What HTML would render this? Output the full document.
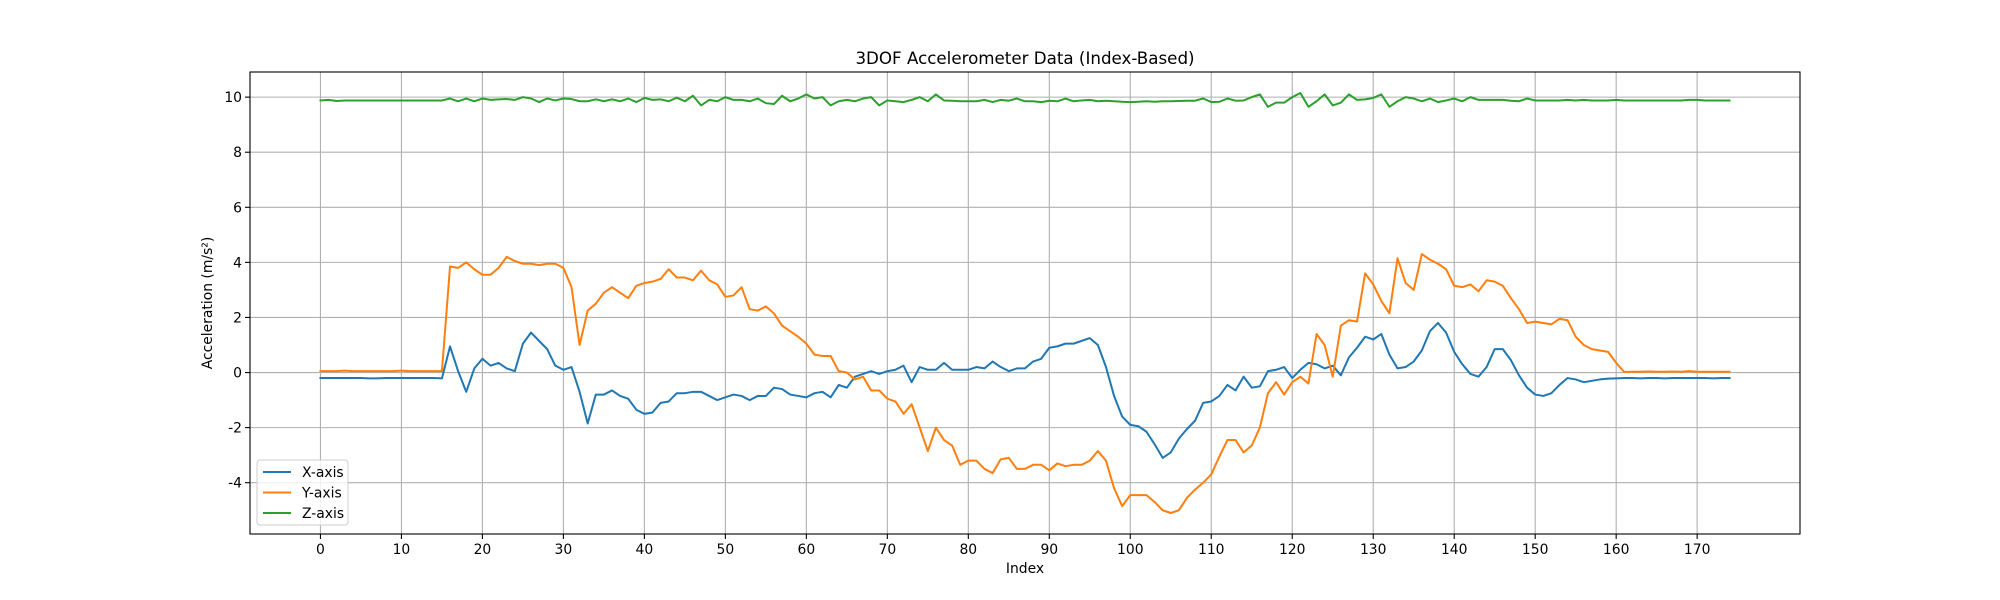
<!DOCTYPE html>
<html><head><meta charset="utf-8"><style>
html,body{margin:0;padding:0;background:#fff;}
svg{display:block;font-family:"DejaVu Sans","Liberation Sans",sans-serif;}
</style></head><body>
<svg id="chart" width="2000" height="600" xmlns="http://www.w3.org/2000/svg">
<text x="1025" y="64" font-size="16.7" text-anchor="middle">3DOF Accelerometer Data (Index-Based)</text>
<g id="grid"></g>
<g id="series"></g>
<rect x="250" y="72" width="1550" height="462" fill="none" stroke="#000" stroke-width="1.1"/>
<g id="xticks"></g>
<g id="yticks"></g>
<text x="1025" y="573" font-size="13.9" text-anchor="middle">Index</text>
<text x="0" y="0" font-size="13.9" text-anchor="middle" transform="translate(212,303) rotate(-90)">Acceleration (m/s²)</text>
<g id="legend"></g>
</svg>
<script>
const xTicks=[0,10,20,30,40,50,60,70,80,90,100,110,120,130,140,150,160,170];
const yTicks=[-4,-2,0,2,4,6,8,10];
const seriesNames=["X-axis","Y-axis","Z-axis"];
const xAxisVals=[-0.2,-0.2,-0.2,-0.2,-0.2,-0.2,-0.21,-0.21,-0.2,-0.2,-0.2,-0.2,-0.2,-0.2,-0.2,-0.21,
0.95,0.05,-0.7,0.15,0.5,0.25,0.35,0.15,0.05,1.05,1.45,1.15,0.85,0.25,0.1,0.2,-0.7,-1.85,-0.8,-0.8,-0.65,-0.85,-0.95,-1.35,
-1.5,-1.45,-1.1,-1.05,-0.75,-0.75,-0.7,-0.7,-0.85,-1.0,-0.9,-0.8,-0.85,-1.0,-0.85,-0.85,-0.55,-0.6,-0.8,-0.85,
-0.9,-0.75,-0.7,-0.9,-0.45,-0.55,-0.15,-0.05,0.05,-0.05,0.05,0.1,0.25,-0.35,0.2,0.1,0.1,0.35,0.1,0.1,
0.1,0.2,0.15,0.4,0.2,0.05,0.15,0.15,0.4,0.5,0.9,0.95,1.05,1.05,1.15,1.25,1.0,0.2,-0.85,-1.6,
-1.9,-1.95,-2.15,-2.6,-3.1,-2.9,-2.4,-2.05,-1.75,-1.1,-1.05,-0.85,-0.45,-0.65,-0.15,-0.55,-0.5,0.05,0.1,0.2,
-0.2,0.1,0.35,0.3,0.15,0.25,-0.1,0.55,0.9,1.3,1.2,1.4,0.65,0.15,0.2,0.4,0.8,1.5,1.8,1.45,
0.75,0.3,-0.05,-0.15,0.2,0.85,0.85,0.45,-0.1,-0.55,-0.8,-0.85,-0.75,-0.45,-0.2,-0.25,-0.35,-0.3,-0.25,-0.22,
-0.21,-0.2,-0.2,-0.21,-0.2,-0.2,-0.21,-0.2,-0.2,-0.2,-0.2,-0.2,-0.21,-0.2,-0.2];
const yAxisVals=[0.05,0.05,0.05,0.07,0.05,0.05,0.05,0.05,0.05,0.05,0.07,0.05,0.05,0.05,0.05,0.05,
3.85,3.8,4.0,3.75,3.55,3.55,3.8,4.2,4.05,3.95,3.95,3.9,3.95,3.95,3.8,3.1,1.0,2.25,2.5,2.9,3.1,2.9,2.7,3.15,
3.25,3.3,3.4,3.75,3.45,3.45,3.35,3.7,3.35,3.2,2.75,2.8,3.1,2.3,2.25,2.4,2.15,1.7,1.5,1.3,
1.05,0.65,0.6,0.6,0.05,0.0,-0.25,-0.15,-0.65,-0.65,-0.95,-1.05,-1.5,-1.15,-2.0,-2.85,-2.0,-2.45,-2.65,-3.35,
-3.2,-3.2,-3.5,-3.65,-3.15,-3.1,-3.5,-3.5,-3.35,-3.35,-3.55,-3.3,-3.4,-3.35,-3.35,-3.2,-2.85,-3.2,-4.2,-4.85,
-4.45,-4.45,-4.45,-4.7,-5.0,-5.1,-5.0,-4.55,-4.25,-4.0,-3.7,-3.05,-2.45,-2.45,-2.9,-2.65,-2.0,-0.75,-0.35,-0.8,
-0.35,-0.15,-0.4,1.4,1.0,-0.15,1.7,1.9,1.85,3.6,3.2,2.6,2.15,4.15,3.25,3.0,4.3,4.1,3.95,3.75,
3.15,3.1,3.2,2.95,3.35,3.3,3.15,2.7,2.3,1.8,1.85,1.8,1.75,1.95,1.9,1.3,1.0,0.85,0.8,0.75,
0.35,0.02,0.03,0.03,0.04,0.03,0.03,0.04,0.03,0.05,0.03,0.03,0.03,0.03,0.03];
const zAxisVals=[9.88,9.9,9.86,9.88,9.88,9.88,9.88,9.88,9.88,9.88,9.88,9.88,9.88,9.88,9.88,9.88,
9.95,9.85,9.95,9.85,9.95,9.9,9.92,9.93,9.9,10.0,9.95,9.82,9.95,9.88,9.95,9.93,9.85,9.85,9.92,9.85,9.92,9.85,9.95,9.82,
9.97,9.9,9.92,9.85,9.98,9.85,10.05,9.7,9.9,9.85,10.0,9.9,9.9,9.85,9.95,9.78,9.75,10.05,9.85,9.95,
10.1,9.95,10.0,9.7,9.85,9.9,9.85,9.95,10.0,9.7,9.88,9.85,9.82,9.9,10.0,9.85,10.1,9.88,9.87,9.85,
9.85,9.85,9.9,9.82,9.9,9.87,9.95,9.85,9.85,9.82,9.87,9.85,9.95,9.85,9.88,9.9,9.85,9.87,9.85,9.83,
9.82,9.83,9.85,9.83,9.85,9.85,9.86,9.87,9.87,9.95,9.82,9.83,9.95,9.87,9.88,10.0,10.1,9.65,9.8,9.8,
10.0,10.15,9.65,9.85,10.1,9.7,9.8,10.1,9.9,9.92,9.97,10.1,9.65,9.85,10.0,9.95,9.85,9.95,9.82,9.88,
9.95,9.85,10.0,9.9,9.9,9.9,9.9,9.87,9.85,9.95,9.88,9.88,9.88,9.88,9.9,9.88,9.9,9.88,9.88,9.88,
9.9,9.88,9.88,9.88,9.88,9.88,9.88,9.88,9.88,9.9,9.9,9.88,9.88,9.88,9.88];
const colors=["#1f77b4","#ff7f0e","#2ca02c"];
const NS="http://www.w3.org/2000/svg";
const L=250,R=1800,T=72,B=534;
const all=[xAxisVals,yAxisVals,zAxisVals];
const n=xAxisVals.length;
const xmin=0,xmax=n-1,xm=(xmax-xmin)*0.05;
let dmin=Math.min(...all.flat()),dmax=Math.max(...all.flat()),ym=(dmax-dmin)*0.05;
const X0=xmin-xm,X1=xmax+xm,Y0=dmin-ym,Y1=dmax+ym;
const sx=v=>L+(v-X0)/(X1-X0)*(R-L);
const sy=v=>B-(v-Y0)/(Y1-Y0)*(B-T);
function mk(tag,attrs,parent){const e=document.createElementNS(NS,tag);for(const k in attrs)e.setAttribute(k,attrs[k]);parent.appendChild(e);return e;}
const grid=document.getElementById('grid'),xt=document.getElementById('xticks'),yt=document.getElementById('yticks');
xTicks.forEach(t=>{const x=sx(t);
 const g=mk('line',{x1:x,x2:x,y1:T,y2:B,stroke:'#b0b0b0','stroke-width':1.1},grid);
 
 
 const tk=mk('line',{x1:x,x2:x,y1:B,y2:B+5,stroke:'#000','stroke-width':1.1},xt);
 
 
 const tx=mk('text',{x:x,y:B+20,'font-size':13.9,'text-anchor':'middle'},xt);tx.textContent=t;
 
 
});
yTicks.forEach(t=>{const y=sy(t);
 const g=mk('line',{x1:L,x2:R,y1:y,y2:y,stroke:'#b0b0b0','stroke-width':1.1},grid);
 
 
 const tk=mk('line',{x1:L-5,x2:L,y1:y,y2:y,stroke:'#000','stroke-width':1.1},yt);
 
 
 const tx=mk('text',{x:L-8,y:y+5,'font-size':13.9,'text-anchor':'end'},yt);tx.textContent=t;
 
 
});
const sg=document.getElementById('series');
all.forEach((arr,si)=>{
 const d=arr.map((v,i)=>(i?'L':'M')+sx(i).toFixed(2)+','+sy(v).toFixed(2)).join('');
 const p=mk('path',{d:d,fill:'none',stroke:colors[si],'stroke-width':2,'stroke-linejoin':'round','stroke-linecap':'square'},sg);
 
 
});
const lg=document.getElementById('legend');
const box=mk('rect',{x:257,y:460,width:91,height:65,rx:3,fill:'#fff','fill-opacity':0.8,stroke:'#cccccc','stroke-width':1},lg);


seriesNames.forEach((nm,i)=>{const y=472+i*20.5;
 const ln=mk('line',{x1:263,x2:291,y1:y,y2:y,stroke:colors[i],'stroke-width':2},lg);
 
 
 const tx=mk('text',{x:302,y:y+5,'font-size':13.9},lg);tx.textContent=nm;
 
 
});
</script>
</body></html>
